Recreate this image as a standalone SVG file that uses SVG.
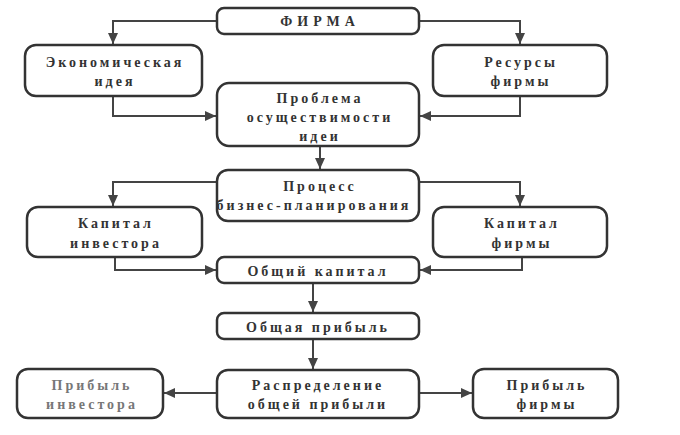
<svg xmlns="http://www.w3.org/2000/svg" width="680" height="435" viewBox="0 0 680 435">
<style>
.box{fill:#fff;stroke:#333;stroke-width:2.5}
.t{font-family:'Liberation Serif',serif;font-weight:700;font-size:14px;letter-spacing:3px;fill:#333;text-anchor:middle}
.g{fill:#777}
.c{fill:none;stroke:#444;stroke-width:2}
</style>
<defs>
<marker id="a" markerUnits="userSpaceOnUse" markerWidth="12" markerHeight="10" refX="11" refY="5" orient="auto">
<path d="M0,0 L11,5 L0,10 z" fill="#444"/>
</marker>
</defs>
<rect width="680" height="435" fill="#fff"/>
<g id="connectors">
<polyline class="c" points="217,21 113,21 113,44" marker-end="url(#a)"/>
<polyline class="c" points="419,21 520,21 520,44" marker-end="url(#a)"/>
<polyline class="c" points="113,96 113,116 216,116" marker-end="url(#a)"/>
<polyline class="c" points="520,96 520,116 420,116" marker-end="url(#a)"/>
<polyline class="c" points="320,146 320,169" marker-end="url(#a)"/>
<polyline class="c" points="217,182 113,182 113,206" marker-end="url(#a)"/>
<polyline class="c" points="419,182 520,182 520,206" marker-end="url(#a)"/>
<polyline class="c" points="115,257 115,270 216,270" marker-end="url(#a)"/>
<polyline class="c" points="522,257 522,270 420,270" marker-end="url(#a)"/>
<polyline class="c" points="313,283 313,312" marker-end="url(#a)"/>
<polyline class="c" points="313,339 313,369" marker-end="url(#a)"/>
<polyline class="c" points="217,393 164,393" marker-end="url(#a)"/>
<polyline class="c" points="419,393 472,393" marker-end="url(#a)"/>
</g>
<g id="firma">
<rect class="box" x="217" y="8" width="202" height="26" rx="7"/>
<text class="t" x="320" y="26" style="letter-spacing:5px">ФИРМА</text>
</g>
<g id="idea">
<rect class="box" x="25" y="45" width="177" height="51" rx="11"/>
<text class="t" x="115" y="67">Экономическая</text>
<text class="t" x="115" y="86">идея</text>
</g>
<g id="resources">
<rect class="box" x="433" y="45" width="174" height="51" rx="11"/>
<text class="t" x="521" y="67">Ресурсы</text>
<text class="t" x="521" y="86">фирмы</text>
</g>
<g id="problem">
<rect class="box" x="217" y="83" width="202" height="63" rx="12"/>
<text class="t" x="320" y="103">Проблема</text>
<text class="t" x="320" y="122">осуществимости</text>
<text class="t" x="320" y="141">идеи</text>
</g>
<g id="process">
<rect class="box" x="217" y="170" width="202" height="51" rx="11"/>
<text class="t" x="320" y="191">Процесс</text>
<text class="t" x="314" y="210">бизнес-планирования</text>
</g>
<g id="investor-capital">
<rect class="box" x="27" y="207" width="175" height="50" rx="11"/>
<text class="t" x="116" y="228">Капитал</text>
<text class="t" x="116" y="248">инвестора</text>
</g>
<g id="firm-capital">
<rect class="box" x="433" y="207" width="174" height="50" rx="11"/>
<text class="t" x="522" y="228">Капитал</text>
<text class="t" x="522" y="248">фирмы</text>
</g>
<g id="total-capital">
<rect class="box" x="217" y="257" width="202" height="26" rx="7"/>
<text class="t" x="318" y="276">Общий капитал</text>
</g>
<g id="total-profit">
<rect class="box" x="217" y="313" width="202" height="26" rx="7"/>
<text class="t" x="318" y="332">Общая прибыль</text>
</g>
<g id="distribution">
<rect class="box" x="217" y="370" width="202" height="48" rx="11"/>
<text class="t" x="318" y="390">Распределение</text>
<text class="t" x="318" y="409">общей прибыли</text>
</g>
<g id="investor-profit">
<rect class="box" x="17" y="369" width="146" height="49" rx="11"/>
<text class="t g" x="92" y="390">Прибыль</text>
<text class="t g" x="92" y="409">инвестора</text>
</g>
<g id="firm-profit">
<rect class="box" x="473" y="369" width="145" height="49" rx="11"/>
<text class="t" x="547" y="390">Прибыль</text>
<text class="t" x="547" y="409">фирмы</text>
</g>
</svg>
